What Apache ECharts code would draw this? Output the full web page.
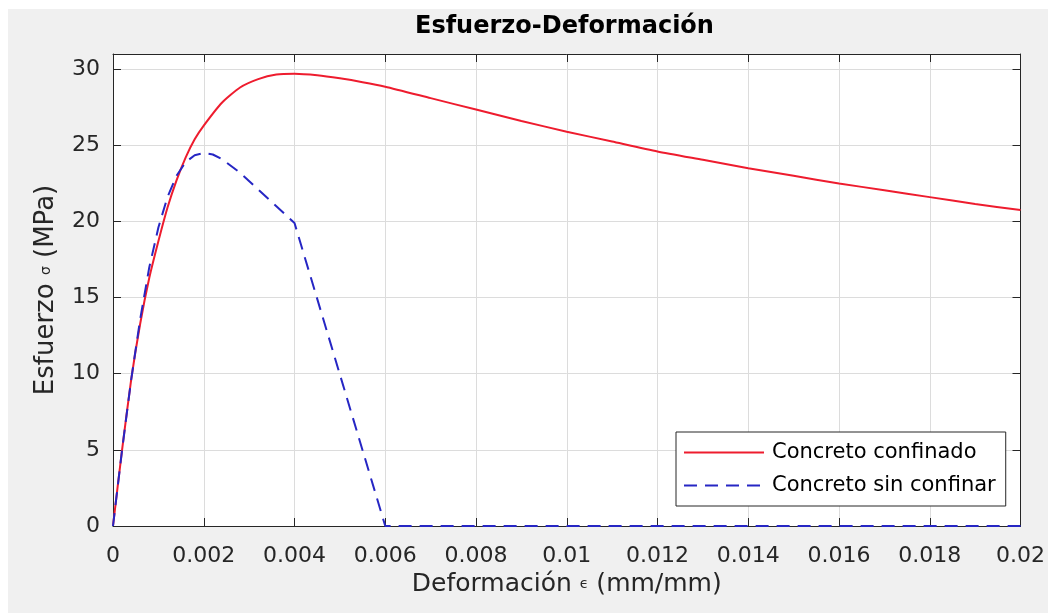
<!DOCTYPE html>
<html>
<head>
<meta charset="utf-8">
<title>Esfuerzo-Deformación</title>
<script src="https://cdn.jsdelivr.net/npm/echarts@6/dist/echarts.min.js"></script>
<style>
  body { margin: 0; background: #ffffff; }
  #main { position: absolute; left: 8px; top: 9px; width: 1040px; height: 604px; }
</style>
</head>
<body>
<div id="main"></div>
<script>
// datos
const strainConf = [0, 0.0002, 0.0004, 0.0006, 0.0008, 0.001, 0.0012, 0.0014, 0.0016, 0.0018, 0.002,
  0.0024, 0.0028, 0.0032, 0.0036, 0.004, 0.0045, 0.005, 0.0055, 0.006, 0.007, 0.008, 0.009, 0.01,
  0.011, 0.012, 0.013, 0.014, 0.015, 0.016, 0.017, 0.018, 0.019, 0.02]
const stressConf = [0, 5.0, 9.6, 13.3, 16.3, 18.7, 20.9, 22.7, 24.2, 25.4, 26.3,
  27.8, 28.8, 29.35, 29.65, 29.7, 29.6, 29.4, 29.15, 28.85, 28.1, 27.35, 26.6, 25.9,
  25.25, 24.6, 24.05, 23.5, 23.0, 22.5, 22.05, 21.6, 21.15, 20.75]

const strainUnconf = [0, 0.0002, 0.0004, 0.0006, 0.0008, 0.001, 0.0012, 0.0014, 0.0016, 0.0018, 0.002,
  0.0022, 0.0024, 0.0028, 0.0032, 0.0036, 0.004, 0.006, 0.02]
const stressUnconf = [0, 5.0, 9.6, 13.6, 17.0, 19.6, 21.6, 23.0, 23.9, 24.35, 24.5,
  24.4, 24.1, 23.2, 22.1, 21.0, 19.9, 0, 0]

const seriesNames = ["Concreto confinado", "Concreto sin confinar"]

const font = "DejaVu Sans"
const axisColor = "#262626"

const pairs = (xs, ys) => xs.map((x, i) => [x, ys[i]])

const chart = echarts.init(document.getElementById("main"))

const xBase = {
  type: "value",
  min: 0,
  max: 0.02,
  interval: 0.002,
  axisLine: { show: true, onZero: false, lineStyle: { color: axisColor, width: 1 } },
  axisTick: { show: true, inside: true, length: 8, lineStyle: { color: axisColor } },
}
const yBase = {
  type: "value",
  min: 0,
  max: 31,
  interval: 5,
  axisLine: { show: true, onZero: false, lineStyle: { color: axisColor, width: 1 } },
  axisTick: { show: true, inside: true, length: 8, lineStyle: { color: axisColor } },
}

chart.setOption({
  animation: false,
  backgroundColor: "#f0f0f0",
  title: {
    text: "Esfuerzo-Deformación",
    left: 407,
    top: 6,
    padding: 0,
    textStyle: { fontFamily: font, fontSize: 24, fontWeight: "bold", color: "#000" },
  },
  legend: {
    orient: "vertical",
    left: 668,
    top: 423,
    padding: [10, 10, 10, 7],
    itemWidth: 80,
    itemHeight: 14,
    itemGap: 12,
    backgroundColor: "#fff",
    borderColor: axisColor,
    borderWidth: 1,
    borderRadius: 0,
    itemStyle: { opacity: 0 },
    textStyle: { fontFamily: font, fontSize: 21, color: "#000", padding: [0, 0, 0, 3] },
    data: seriesNames,
  },
  grid: {
    left: 105,
    top: 45,
    right: 17,
    bottom: 87,
    show: true,
    backgroundColor: "#fff",
    borderWidth: 0,
  },
  xAxis: [
    Object.assign({}, xBase, {
      position: "bottom",
      name: "Deformación {g|ϵ} (mm/mm)",
      nameLocation: "middle",
      nameGap: 42,
      nameTextStyle: {
        fontFamily: font, fontSize: 25, color: axisColor, verticalAlign: "top",
        rich: { g: { fontFamily: font, fontSize: 14, color: axisColor } },
      },
      axisLabel: {
        margin: 19,
        fontFamily: font,
        fontSize: 22,
        color: axisColor,
        formatter: (v) => String(+v.toFixed(3)),
      },
      splitLine: { show: true, lineStyle: { color: "#dcdcdc", width: 1 } },
    }),
    Object.assign({}, xBase, {
      position: "top",
      axisLabel: { show: false },
      splitLine: { show: false },
    }),
  ],
  yAxis: [
    Object.assign({}, yBase, {
      position: "left",
      name: "Esfuerzo {g|σ} (MPa)",
      nameLocation: "middle",
      nameGap: 54,
      nameTextStyle: {
        fontFamily: font, fontSize: 26, color: axisColor,
        rich: { g: { fontFamily: font, fontSize: 14, color: axisColor } },
      },
      axisLabel: {
        margin: 13,
        fontFamily: font,
        fontSize: 22,
        color: axisColor,
        showMaxLabel: false,
      },
      splitLine: { show: true, lineStyle: { color: "#dcdcdc", width: 1 } },
    }),
    Object.assign({}, yBase, {
      position: "right",
      axisLabel: { show: false },
      splitLine: { show: false },
    }),
  ],
  series: [
    {
      name: seriesNames[0],
      type: "line",
      xAxisIndex: 0,
      yAxisIndex: 0,
      symbol: "none",
      smooth: 0.2,
      lineStyle: { color: "#ee1c2e", width: 2 },
      itemStyle: { color: "#ee1c2e" },
      data: pairs(strainConf, stressConf),
      z: 3,
    },
    {
      name: seriesNames[1],
      type: "line",
      xAxisIndex: 0,
      yAxisIndex: 0,
      symbol: "none",
      lineStyle: { color: "#2626c4", width: 2, type: [13, 8] },
      itemStyle: { color: "#2626c4" },
      data: pairs(strainUnconf, stressUnconf),
      z: 4,
    },
  ],
})

window.addEventListener("resize", () => {
  chart.resize()
})
</script>
</body>
</html>
